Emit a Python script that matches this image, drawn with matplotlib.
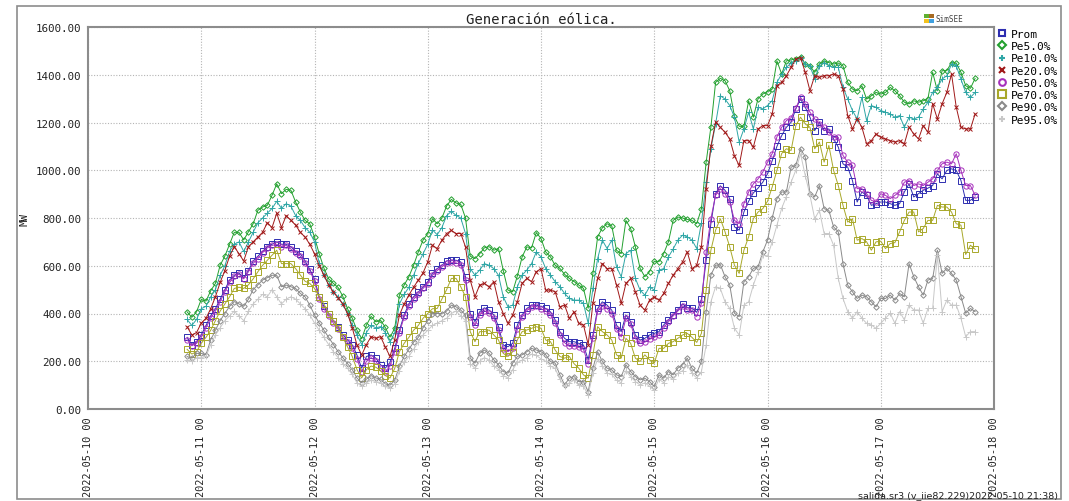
import matplotlib
matplotlib.use("Agg")
import matplotlib.pyplot as plt
import matplotlib.dates as mdates
from matplotlib.lines import Line2D
from matplotlib.patches import Rectangle
import pandas as pd

# hourly wind generation (MW), first value at 2022-05-10 21:00
start = "2022-05-10 21:00"

prom = [
    300, 270, 280,
    310, 350, 390, 420, 460, 500, 540, 560, 570, 550, 580, 620, 640, 660, 680, 690, 700, 690, 690, 680, 660, 650, 620, 585,
    545, 470, 430, 400, 370, 345, 310, 290, 268, 226, 171, 220, 226, 213, 185, 171, 195, 254, 330, 394, 440, 470, 490, 510,
    533, 568, 588, 602, 620, 623, 623, 616, 554, 400, 366, 407, 424, 414, 394, 345, 268, 261, 275, 352, 394, 421, 435, 435,
    430, 421, 407, 373, 324, 296, 282, 282, 275, 268, 206, 310, 421, 449, 435, 414, 352, 324, 394, 366, 310, 289, 296, 310,
    317, 324, 352, 373, 395, 415, 440, 425, 421, 405, 460, 623, 776, 902, 935, 916, 881, 763, 749, 825, 870, 905, 925, 950,
    985, 1040, 1100, 1145, 1180, 1201, 1257, 1298, 1264, 1222, 1166, 1201, 1166, 1173, 1131, 1097, 1027, 1013, 957, 867, 909, 895, 853, 860,
    867, 867, 860, 853, 860, 909, 943, 888, 902, 916, 925, 936, 985, 964, 999, 1006, 999, 957, 874, 874, 888,
]
pe5 = [
    407, 384, 407,
    459, 452, 495, 526, 602, 640, 690, 740, 740, 708, 742, 776, 832, 846, 853, 895, 943, 902, 920, 916, 867, 825, 790, 776,
    720, 650, 590, 545, 526, 509, 472, 420, 380, 330, 294, 351, 388, 365, 372, 342, 301, 338, 477, 519, 554, 602, 658, 707,
    735, 797, 776, 800, 850, 878, 863, 857, 800, 640, 630, 650, 675, 680, 665, 672, 580, 498, 491, 558, 637, 679, 675, 739,
    714, 658, 637, 602, 589, 564, 547, 534, 519, 505, 422, 568, 721, 759, 776, 767, 665, 651, 790, 756, 679, 589, 554, 575,
    619, 617, 651, 700, 790, 804, 800, 794, 790, 776, 839, 1034, 1180, 1368, 1385, 1375, 1333, 1226, 1184, 1184, 1291, 1222, 1300, 1319,
    1329, 1340, 1458, 1403, 1458, 1462, 1468, 1476, 1445, 1437, 1410, 1445, 1458, 1451, 1445, 1449, 1437, 1368, 1340, 1333, 1354, 1298, 1312, 1326,
    1319, 1326, 1347, 1333, 1312, 1285, 1278, 1291, 1285, 1291, 1300, 1410, 1333, 1417, 1417, 1451, 1449, 1410, 1354, 1343, 1385,
]
pe10 = [
    375, 350, 375,
    420, 430, 470, 500, 560, 600, 660, 690, 700, 660, 700, 740, 780, 800, 820, 840, 870, 840, 860, 850, 810, 790, 760, 740,
    700, 610, 560, 520, 490, 470, 440, 400, 350, 310, 270, 320, 350, 340, 345, 320, 280, 320, 440, 480, 510, 560, 610, 650,
    690, 750, 730, 760, 810, 828, 811, 800, 735, 588, 561, 582, 609, 602, 588, 560, 470, 428, 435, 512, 561, 582, 609, 658,
    637, 588, 561, 533, 512, 484, 463, 456, 456, 442, 359, 505, 630, 707, 672, 707, 595, 554, 651, 665, 547, 498, 477, 512,
    498, 582, 588, 637, 670, 707, 728, 721, 707, 672, 780, 950, 1090, 1194, 1312, 1298, 1271, 1222, 1118, 1173, 1243, 1173, 1264, 1257,
    1271, 1292, 1368, 1403, 1431, 1449, 1458, 1472, 1445, 1437, 1382, 1437, 1451, 1437, 1431, 1431, 1347, 1298, 1250, 1215, 1305, 1208, 1271, 1264,
    1250, 1243, 1236, 1222, 1229, 1180, 1222, 1215, 1222, 1257, 1285, 1326, 1347, 1382, 1396, 1445, 1437, 1382, 1326, 1305, 1326,
]
pe20 = [
    345, 310, 320,
    360, 380, 420, 470, 530, 580, 640, 680, 650, 620, 680, 700, 720, 740, 780, 760, 820, 760, 810, 790, 770, 740, 720, 690,
    650, 600, 560, 520, 490, 465, 440, 400, 340, 268, 226, 270, 303, 296, 303, 260, 220, 290, 394, 440, 477, 510, 540, 570,
    616, 686, 672, 707, 735, 748, 735, 735, 679, 540, 470, 519, 526, 512, 533, 449, 400, 359, 394, 450, 526, 547, 533, 575,
    588, 498, 498, 491, 428, 435, 380, 407, 359, 352, 270, 442, 547, 609, 588, 588, 519, 442, 526, 547, 491, 435, 414, 456,
    470, 456, 484, 526, 560, 588, 616, 658, 588, 602, 680, 920, 1100, 1201, 1180, 1159, 1131, 1060, 1020, 1124, 1124, 1097, 1173, 1187,
    1187, 1236, 1354, 1368, 1396, 1431, 1465, 1472, 1410, 1333, 1396, 1389, 1396, 1396, 1403, 1396, 1340, 1229, 1173, 1215, 1180, 1111, 1124, 1152,
    1138, 1131, 1124, 1118, 1124, 1111, 1180, 1152, 1131, 1187, 1159, 1278, 1215, 1278, 1326, 1403, 1264, 1180, 1173, 1173, 1236,
]
pe50 = [
    290, 265, 275,
    300, 340, 380, 410, 450, 490, 530, 555, 565, 545, 575, 610, 630, 655, 675, 685, 690, 680, 685, 670, 655, 640, 610, 580,
    535, 460, 420, 390, 360, 335, 300, 280, 255, 210, 155, 200, 215, 200, 170, 155, 180, 240, 320, 385, 430, 460, 480, 505,
    525, 560, 580, 595, 610, 615, 612, 605, 540, 385, 350, 395, 412, 402, 380, 330, 250, 240, 255, 335, 385, 412, 428, 430,
    420, 410, 395, 360, 310, 278, 262, 262, 258, 250, 188, 298, 410, 430, 420, 400, 335, 302, 380, 355, 295, 275, 280, 292,
    300, 310, 340, 365, 390, 410, 432, 415, 414, 387, 442, 658, 797, 895, 923, 902, 867, 790, 776, 860, 909, 943, 964, 992,
    1034, 1070, 1140, 1180, 1208, 1220, 1260, 1305, 1278, 1243, 1215, 1194, 1180, 1159, 1138, 1138, 1062, 1034, 1020, 923, 923, 902, 874, 867,
    902, 895, 881, 895, 909, 950, 957, 936, 943, 936, 950, 964, 999, 1027, 1034, 1027, 1069, 999, 936, 936, 895,
]
pe70 = [
    250, 230, 240,
    275, 300, 330, 370, 410, 440, 470, 505, 510, 505, 520, 545, 575, 602, 623, 644, 665, 609, 609, 609, 588, 561, 535, 526,
    505, 470, 440, 400, 370, 340, 300, 260, 220, 165, 130, 165, 180, 175, 160, 140, 130, 170, 240, 275, 300, 330, 350, 380,
    400, 420, 421, 460, 500, 547, 547, 512, 470, 324, 282, 324, 324, 331, 310, 289, 233, 220, 240, 290, 324, 331, 338, 345,
    338, 289, 282, 247, 220, 213, 220, 190, 171, 143, 129, 227, 345, 324, 310, 289, 227, 213, 296, 275, 213, 199, 227, 206,
    192, 254, 254, 275, 282, 296, 310, 317, 300, 279, 317, 498, 665, 749, 797, 742, 679, 602, 568, 665, 721, 797, 825, 839,
    870, 930, 1000, 1070, 1090, 1083, 1187, 1222, 1194, 1180, 1090, 1118, 1034, 1104, 1000, 936, 853, 783, 797, 707, 714, 700, 665, 700,
    703, 672, 693, 697, 742, 790, 825, 825, 742, 756, 790, 790, 853, 846, 846, 825, 776, 770, 647, 686, 669,
]
pe90 = [
    220, 213, 233,
    233, 227, 290, 330, 370, 400, 430, 450, 440, 430, 460, 500, 520, 540, 550, 560, 560, 512, 519, 512, 505, 484, 470, 435,
    394, 360, 330, 300, 270, 240, 215, 190, 165, 130, 110, 125, 140, 130, 125, 105, 100, 120, 180, 220, 250, 280, 300, 340,
    370, 400, 400, 400, 410, 435, 428, 414, 394, 213, 192, 233, 247, 233, 206, 185, 157, 150, 192, 220, 227, 240, 254, 247,
    240, 227, 199, 192, 143, 101, 129, 136, 115, 115, 73, 171, 240, 199, 171, 164, 143, 136, 185, 157, 136, 122, 129, 115,
    94, 143, 129, 157, 143, 171, 185, 213, 170, 150, 199, 408, 561, 602, 605, 554, 519, 401, 387, 533, 554, 589, 595, 658,
    707, 800, 881, 909, 909, 1013, 1020, 1090, 1055, 902, 888, 936, 839, 832, 763, 742, 609, 519, 491, 463, 477, 470, 449, 428,
    463, 463, 477, 456, 484, 470, 609, 554, 512, 477, 540, 547, 665, 568, 589, 568, 540, 470, 401, 421, 408,
]
pe95 = [
    205, 200, 215,
    215, 220, 270, 310, 340, 370, 390, 410, 390, 370, 410, 440, 460, 480, 470, 500, 470, 440, 460, 470, 460, 440, 420, 395,
    360, 330, 300, 270, 240, 215, 190, 170, 145, 110, 95, 110, 120, 115, 110, 95, 88, 105, 160, 195, 220, 250, 280, 310,
    330, 350, 360, 370, 380, 400, 410, 390, 370, 190, 170, 200, 215, 205, 180, 165, 140, 130, 165, 195, 205, 215, 230, 225,
    210, 200, 180, 170, 125, 95, 110, 120, 100, 95, 60, 150, 210, 180, 150, 145, 120, 110, 160, 135, 115, 100, 110, 95,
    80, 125, 110, 135, 125, 150, 160, 185, 150, 130, 157, 268, 449, 512, 505, 449, 421, 338, 310, 435, 449, 519, 575, 644,
    640, 700, 770, 840, 890, 950, 1000, 1069, 978, 895, 797, 832, 735, 735, 686, 547, 463, 408, 380, 408, 380, 359, 352, 338,
    359, 380, 401, 359, 408, 373, 435, 415, 415, 359, 421, 421, 644, 408, 456, 435, 435, 380, 303, 324, 324,
]

labels = ["Prom", "Pe5.0%", "Pe10.0%", "Pe20.0%", "Pe50.0%", "Pe70.0%", "Pe90.0%", "Pe95.0%"]
series = [prom, pe5, pe10, pe20, pe50, pe70, pe90, pe95]
colors = ["#2e2eb0", "#22a02e", "#2fa6a6", "#a01818", "#a630bc", "#a8a82a", "#8a8a8a", "#c8c8c8"]
markers = ["s", "D", "+", "x", "o", "s", "D", "+"]
msizes = [3.8, 2.8, 4.0, 3.4, 3.8, 4.2, 2.8, 4.0]
hollow = [True, True, False, False, True, True, True, False]

mono = "DejaVu Sans Mono"
W, H = 1069, 502

fig = plt.figure(figsize=(W / 100, H / 100), dpi=100)
fig.patch.set_facecolor("white")

# outer frame
fig.add_artist(Rectangle((17 / W, 2 / H), (1061 - 17) / W, (500 - 7) / H,
                         transform=fig.transFigure, fill=False,
                         edgecolor="#8c8c8c", linewidth=1.2))

ax = fig.add_axes([88 / W, 1 - 410 / H, (994 - 88) / W, (410 - 28) / H])

handles = []
for lab, vals, col, mk, ms, hol in zip(labels, series, colors, markers, msizes, hollow):
    t = pd.date_range(start, periods=len(vals), freq="h")
    ax.plot(t, vals, color=col, linewidth=0.7, marker=mk, markersize=ms,
            markerfacecolor="none" if hol else col, markeredgewidth=0.7)
    handles.append(Line2D([], [], linestyle="none", marker=mk, color=col,
                          markersize=ms + 1.0, markeredgewidth=1.5,
                          markerfacecolor="none" if hol else col))

ax.set_xlim(pd.Timestamp("2022-05-10"), pd.Timestamp("2022-05-18"))
ax.set_ylim(0, 1600)
ax.set_yticks(range(0, 1601, 200))
ax.yaxis.set_major_formatter(matplotlib.ticker.FormatStrFormatter("%.2f"))
ax.xaxis.set_major_locator(mdates.DayLocator())
ax.xaxis.set_major_formatter(mdates.DateFormatter("%Y-%m-%d %H"))

ax.grid(True, color="#b4b4b4", linestyle=(0, (1, 1.5)), linewidth=0.8)
ax.set_axisbelow(True)
for s in ax.spines.values():
    s.set_color("#8c8c8c")
    s.set_linewidth(1.5)

ax.tick_params(axis="y", length=0, labelsize=7.8, labelcolor="#222222", pad=5)
ax.tick_params(axis="x", length=0, labelsize=7.4, labelcolor="#222222", pad=5)
for tl in ax.get_xticklabels():
    tl.set_rotation(90)
    tl.set_fontfamily(mono)
for tl in ax.get_yticklabels():
    tl.set_fontfamily(mono)

ax.set_ylabel("MW", fontfamily=mono, fontsize=7.8, color="#222222", labelpad=4)
ax.set_title("Generación eólica.", fontfamily=mono, fontsize=10, color="#222222", pad=3)

fig.legend(handles, labels, loc="upper left", bbox_to_anchor=(998 / W, 1 - 30 / H),
           frameon=False, prop={"family": mono, "size": 8.0},
           handlelength=0.7, handletextpad=0.5, labelspacing=0.2,
           borderpad=0, borderaxespad=0)

# SimSEE badge
for (dx, dy, c) in [(0, 0, "#f2c21f"), (5, 0, "#3fa0e0"), (0, 5, "#5fb030"), (5, 5, "#a86a22")]:
    fig.add_artist(Rectangle(((924 + dx) / W, 1 - (24 - dy) / H), 4.5 / W, 4.5 / H,
                             transform=fig.transFigure, color=c, linewidth=0))
fig.text(935 / W, 1 - 20 / H, "SimSEE", fontfamily=mono, fontsize=5.5,
         color="#444444", va="center")

fig.text(858 / W, 1 - 496 / H, "salida.sr3 (v_iie82.229)2022-05-10 21:38)",
         fontfamily="Liberation Sans Narrow", fontsize=6.8, color="#222222", va="center")

fig.savefig("out.png", dpi=100, facecolor="white")
